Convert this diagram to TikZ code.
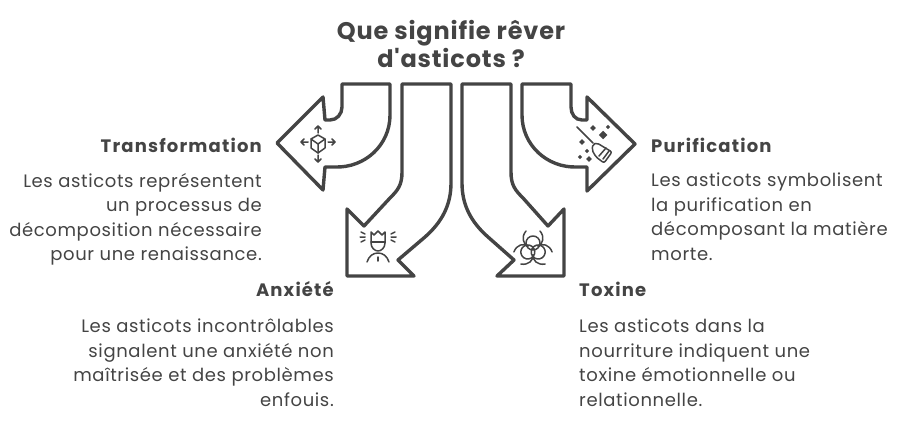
\documentclass[tikz,border=0pt]{standalone}
\usepackage{fontspec}
\setmainfont{Poppins}
\newfontface\fonttitre[LetterSpace=3.5]{Poppins Bold}
\newfontface\fontintitule[LetterSpace=6.5]{Poppins Bold}
\newfontface\fontcorps[LetterSpace=3.5]{Poppins}
\usepackage{xcolor}
\usetikzlibrary{positioning}
\definecolor{encre}{HTML}{444444}
\tikzset{
  titre/.style={
    font=\fontsize{24}{28}\fonttitre, text=encre, align=center, inner sep=0pt
  },
  intitule/.style={
    font=\fontsize{18}{22}\fontintitule, text=encre, inner sep=0pt
  },
  corps/.style={
    font=\fontsize{18}{24.4}\fontcorps, text=encre, inner sep=0pt
  },
  fleche/.style={
    draw=encre, line width=3.4pt, line join=round, fill=white
  },
  icone/.style={
    draw=encre, line width=1.5pt, line cap=round, line join=round
  },
  etoile/.style={
    fill=encre, inner sep=0pt, minimum size=4pt, shape=rectangle, rotate=45
  }
}

\begin{document}
\begin{tikzpicture}[x=1pt, y=-1pt]
    \useasboundingbox (0,0) rectangle (912,420);

    % Titre
    \node[titre] (question) at (451,44) {Que signifie rêver\\d'asticots ?};

    % Flèches
    \draw[fleche] (390,84) -- (390,115) .. controls (390,145) and (365,168) .. (335,167) -- (325,167)
        -- (323,190) -- (277,143) -- (323,97) -- (325,120) -- (330,120)
        .. controls (337,120) and (342,114) .. (342,107) -- (342,84) -- cycle;
    \draw[fleche] (402,84) -- (451,84) -- (451,183) .. controls (451,205) and (442,222) .. (425,237)
        -- (398,260) -- (414,276) -- (347,276) -- (347,209) -- (364,226) -- (390,198)
        .. controls (398,190) and (402,185) .. (402,172) -- cycle;
    \draw[fleche] (511,84) -- (462,84) -- (462,183) .. controls (462,205) and (471,222) .. (488,237)
        -- (514,260) -- (497,276) -- (564,276) -- (564,209) -- (548,226) -- (523,198)
        .. controls (515,190) and (511,185) .. (511,172) -- cycle;
    \draw[fleche] (522,84) -- (522,115) .. controls (522,145) and (547,168) .. (577,167) -- (587,167)
        -- (587,191) -- (635,144) -- (587,97) -- (587,120) -- (582,120)
        .. controls (575,120) and (571,114) .. (571,107) -- (571,84) -- cycle;

    % Transformation
    \node[intitule, anchor=east] (transformation) at (262,145) {Transformation};
    \node[corps, align=right, anchor=north east] (transformationtexte) at (262,173) {Les asticots représentent\\un processus de\\décomposition nécessaire\\pour une renaissance.};

    % Anxiété
    \node[intitule, anchor=east] (anxiete) at (334,289) {Anxiété};
    \node[corps, align=right, anchor=north east] (anxietetexte) at (334,319) {Les asticots incontrôlables\\signalent une anxiété non\\maîtrisée et des problèmes\\enfouis.};

    % Toxine
    \node[intitule, anchor=west] (toxine) at (579,289) {Toxine};
    \node[corps, align=left, anchor=north west] (toxinetexte) at (579,319) {Les asticots dans la\\nourriture indiquent une\\toxine émotionnelle ou\\relationnelle.};

    % Purification
    \node[intitule, anchor=west] (purification) at (651,145) {Purification};
    \node[corps, align=left, anchor=north west] (purificationtexte) at (651,173) {Les asticots symbolisent\\la purification en\\décomposant la matière\\morte.};

    % Icône cube
    \draw[icone] (318,135) -- (325,139) -- (325,148) -- (318,153) -- (311,148) -- (311,139) -- cycle;
    \draw[icone] (311,139) -- (318,144) -- (325,139) (318,144) -- (318,153);
    \draw[icone] (318,133) -- (318,126) (315,129) -- (318,126) -- (321,129);
    \draw[icone] (318,155) -- (318,162) (315,159) -- (318,162) -- (321,159);
    \draw[icone] (308,142) -- (301,142) (304,139) -- (301,142) -- (304,145);
    \draw[icone] (328,142) -- (335,142) (332,139) -- (335,142) -- (332,145);

    % Icône tête
    \draw[icone] (371,232) -- (374,235) -- (378,231) -- (382,235) -- (385,232) -- (385,243)
        .. controls (385,248) and (381,251) .. (378,251) .. controls (375,251) and (371,248) .. (371,243) -- cycle;
    \draw[icone] (371,242) -- (385,242);
    \draw[icone] (367,262) .. controls (369,256) and (373,253) .. (378,253) .. controls (383,253) and (387,256) .. (389,262);
    \draw[icone] (378,257) -- (378,261);
    \draw[icone] (361,232) -- (365,234) (360,237) -- (365,237) (361,242) -- (365,240);
    \draw[icone] (391,234) -- (395,232) (391,237) -- (396,237) (391,240) -- (395,242);

    % Icône danger biologique
    \foreach \angle in {0,120,240} {
      \begin{scope}[shift={(533,249)}, rotate=\angle]
        \draw[icone] (0,-6) circle[radius=7pt];
        \draw[icone] (-7,-18) .. controls (-12,-12) and (-10,-5) .. (-5,-3);
        \draw[icone] (7,-18) .. controls (12,-12) and (10,-5) .. (5,-3);
      \end{scope}
    }

    % Icône balai
    \draw[icone] (577,127) -- (593,143);
    \draw[icone, rounded corners=2pt] (593,144) -- (597,143) -- (612,152) -- (604,163) -- (596,157) -- (592,150) -- cycle;
    \draw[icone] (599,156) -- (606,148) (603,159) -- (609,151);
    \node[etoile, minimum size=6pt] (etoilea) at (603,135) {};
    \node[etoile] (etoileb) at (593,128) {};
    \node[etoile, minimum size=3pt] (etoilec) at (608,127) {};
    \node[etoile] (etoiled) at (582,142) {};
    \node[etoile, minimum size=3pt] (etoilee) at (587,151) {};
    \node[etoile, minimum size=3pt] (etoilef) at (580,157) {};
    \node[etoile] (etoileg) at (589,159) {};

\end{tikzpicture}
\end{document}
